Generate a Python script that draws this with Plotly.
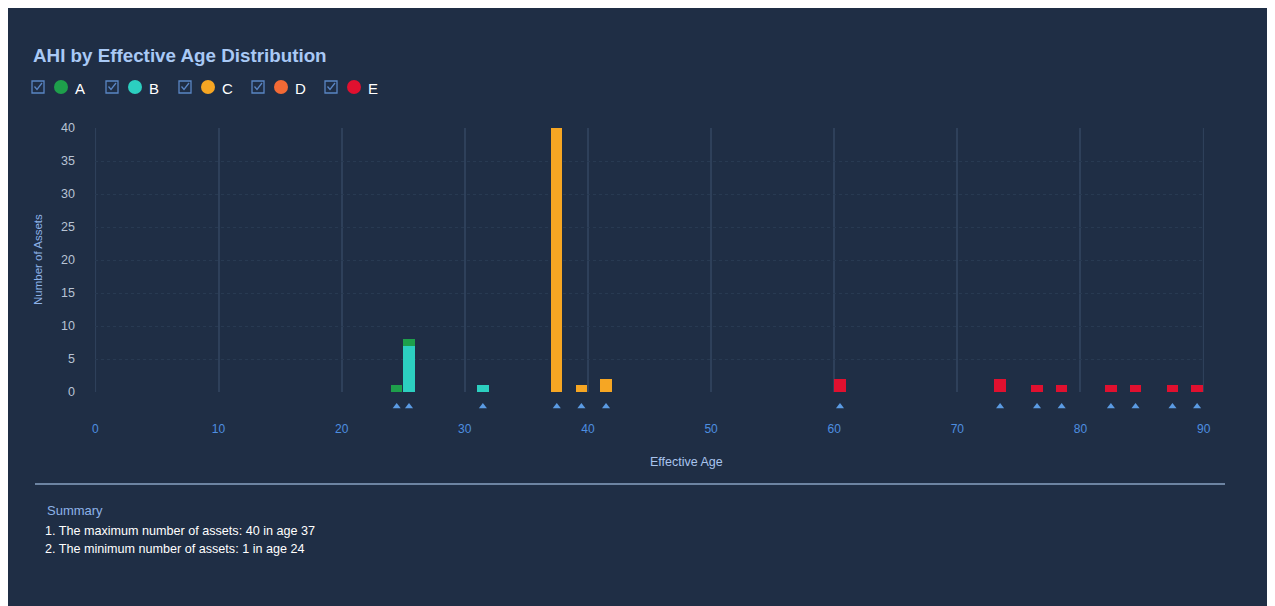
import plotly.graph_objects as go

# ---------------- data ----------------
series_names = ["A", "B", "C", "D", "E"]
series_colors = ["#1e9f4b", "#2ccfc0", "#f6a623", "#f36a35", "#e0102f"]
ages_A = [24, 25]
counts_A = [1, 1]
ages_B = [25, 31]
counts_B = [7, 1]
ages_C = [37, 39, 41]
counts_C = [40, 1, 2]
ages_D = []
counts_D = []
ages_E = [60, 73, 76, 78, 82, 84, 87, 89]
counts_E = [2, 2, 1, 1, 1, 1, 1, 1]
x_ticks = [0, 10, 20, 30, 40, 50, 60, 70, 80, 90]
y_ticks = [0, 5, 10, 15, 20, 25, 30, 35, 40]
title_text = "AHI by Effective Age Distribution"
x_title = "Effective Age"
y_title = "Number of Assets"
summary_title = "Summary"
summary_lines = [
    "1. The maximum number of assets: 40 in age 37",
    "2. The minimum number of assets: 1 in age 24",
]

# ---------------- layout geometry ----------------
# page offset of the figure inside the browser (body margin)
OX, OY = 8, 8
W, H = 1267, 598
# reference pixel positions (screen coordinates)
R_PLOT_L, R_PLOT_R = 95, 1204
R_PLOT_T, R_PLOT_B = 128, 414
R_ZERO = 392
R_TRI_TOP = 399
X_RANGE = [-0.03, 90.03]
GRID_COLOR = "#2e405a"

ML = R_PLOT_L - OX
MR = W - (R_PLOT_R - OX)
PT = R_PLOT_T - OY
PB = R_PLOT_B - OY
PW = W - ML - MR
PH = PB - PT


def fx(p):
    """screen x pixel -> paper fraction"""
    return (p - OX - ML) / PW


def fy(p):
    """screen y pixel -> paper fraction"""
    return (PB - (p - OY)) / PH


BG = "#1f2e45"
FONT = "Liberation Sans, Arial, sans-serif"

series = {
    "A": (ages_A, counts_A),
    "B": (ages_B, counts_B),
    "C": (ages_C, counts_C),
    "D": (ages_D, counts_D),
    "E": (ages_E, counts_E),
}

fig = go.Figure()
# stack order: B below A (A on top at age 25)
for name in ["B", "A", "C", "D", "E"]:
    ages, counts = series[name]
    col = series_colors[series_names.index(name)]
    fig.add_trace(go.Bar(
        x=[a + 0.47 for a in ages], y=counts, width=0.92,
        marker=dict(color=col, line=dict(width=0)),
        name=name, showlegend=False, xaxis="x", yaxis="y",
    ))

all_ages = sorted(set(ages_A + ages_B + ages_C + ages_D + ages_E))
fig.add_trace(go.Scatter(
    x=[a + 0.47 for a in all_ages], y=[0.5] * len(all_ages),
    mode="markers", marker=dict(symbol="triangle-up", size=7, color="#5b9be3"),
    showlegend=False, xaxis="x2", yaxis="y2", hoverinfo="x",
))

shapes = []
annotations = []

# edge grid lines (first / last tick), which plotly leaves out at the plot border
for xv in (x_ticks[0], x_ticks[-1]):
    shapes.append(dict(type="line", xref="x", yref="paper",
                       x0=xv, x1=xv, y0=fy(R_ZERO), y1=1,
                       line=dict(color=GRID_COLOR, width=1.5), layer="below"))

# legend (checkbox + dot + label)
leg_x0 = [32, 106, 179, 252, 325]
leg_y = 87
for i, name in enumerate(series_names):
    bx = leg_x0[i]
    shapes.append(dict(type="rect", xref="paper", yref="paper",
                       xsizemode="pixel", ysizemode="pixel",
                       xanchor=fx(bx), yanchor=fy(leg_y),
                       x0=0, x1=12, y0=-6, y1=6,
                       line=dict(color="#5a86c4", width=1.3), fillcolor="rgba(0,0,0,0)"))
    shapes.append(dict(type="path", xref="paper", yref="paper",
                       xsizemode="pixel", ysizemode="pixel",
                       xanchor=fx(bx), yanchor=fy(leg_y),
                       path="M 2.5 0.5 L 5 -2.5 L 10 4",
                       line=dict(color="#5a86c4", width=1.3)))
    shapes.append(dict(type="circle", xref="paper", yref="paper",
                       xsizemode="pixel", ysizemode="pixel",
                       xanchor=fx(bx + 29), yanchor=fy(leg_y),
                       x0=-7, x1=7, y0=-7, y1=7,
                       fillcolor=series_colors[i], line=dict(width=0)))
    annotations.append(dict(text=name, xref="paper", yref="paper",
                            x=fx(bx + 41), y=fy(leg_y + 1), xanchor="left", yanchor="middle",
                            showarrow=False, font=dict(family=FONT, size=15, color="#ffffff")))

# title
annotations.append(dict(text="<b>" + title_text + "</b>", xref="paper", yref="paper",
                        x=fx(31), y=fy(55), xanchor="left", yanchor="middle",
                        showarrow=False, font=dict(family=FONT, size=18.8, color="#a9c9f5")))

# axis titles
annotations.append(dict(text=y_title, xref="paper", yref="paper",
                        x=fx(38), y=fy(260), xanchor="center", yanchor="middle",
                        textangle=-90, showarrow=False,
                        font=dict(family=FONT, size=11.5, color="#8db2e8")))
annotations.append(dict(text=x_title, xref="paper", yref="paper",
                        x=fx(686), y=fy(462), xanchor="center", yanchor="middle",
                        showarrow=False, font=dict(family=FONT, size=12.5, color="#a9c4ee")))

# separator
shapes.append(dict(type="line", xref="paper", yref="paper",
                   x0=fx(35), x1=fx(1225), y0=fy(484), y1=fy(484),
                   line=dict(color="#6d84a2", width=2)))

# summary
annotations.append(dict(text=summary_title, xref="paper", yref="paper",
                        x=fx(45), y=fy(510), xanchor="left", yanchor="middle",
                        showarrow=False, font=dict(family=FONT, size=13, color="#8db2e8")))
for k, line in enumerate(summary_lines):
    annotations.append(dict(text=line, xref="paper", yref="paper",
                            x=fx(43), y=fy(531 + 18 * k), xanchor="left", yanchor="middle",
                            showarrow=False, font=dict(family=FONT, size=12.6, color="#ffffff")))

fig.update_layout(
    width=W, height=H,
    margin=dict(l=ML, r=MR, t=PT, b=H - PB, pad=0),
    paper_bgcolor=BG, plot_bgcolor=BG,
    barmode="stack",
    showlegend=False,
    font=dict(family=FONT),
    xaxis=dict(range=X_RANGE, domain=[0, 1], anchor="y",
               tickvals=x_ticks, showticklabels=False, ticks="",
               showgrid=True, gridcolor=GRID_COLOR, gridwidth=1.5,
               zeroline=False, showline=False),
    yaxis=dict(range=[0, 40], domain=[fy(R_ZERO), 1], anchor="x",
               tickvals=y_ticks, ticks="", ticklabelstandoff=19,
               tickfont=dict(family=FONT, size=12.5, color="#b8c3d4"),
               showgrid=True, gridcolor="#283a52", griddash="dot", gridwidth=1,
               zeroline=False, showline=False),
    xaxis2=dict(range=X_RANGE, domain=[0, 1], anchor="y2", matches="x",
                tickvals=x_ticks, ticks="", ticklabelstandoff=6,
                tickfont=dict(family=FONT, size=12, color="#4e8fe0"),
                showgrid=False, zeroline=False, showline=False),
    yaxis2=dict(range=[0, 1], domain=[0, fy(R_TRI_TOP)], anchor="x2",
                showticklabels=False, showgrid=False, zeroline=False, showline=False),
    shapes=shapes,
    annotations=annotations,
)

fig.write_html("out.html")
